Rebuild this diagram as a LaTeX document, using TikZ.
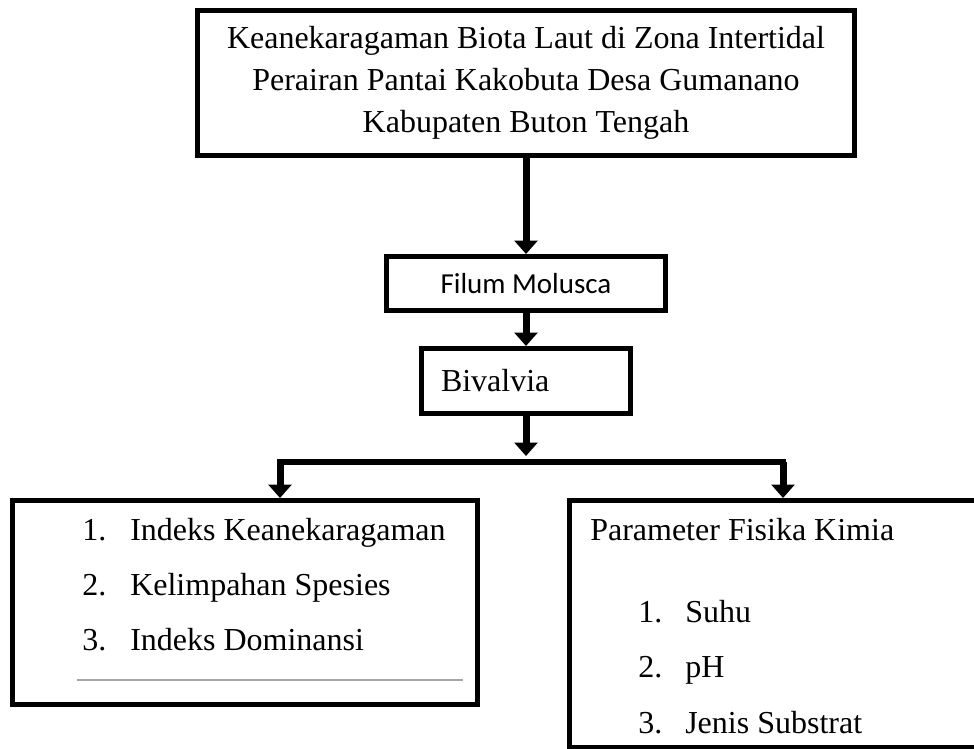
\documentclass[tikz,border=0pt]{standalone}
\usepackage{fontspec}
\setmainfont{Liberation Serif}
\newfontfamily\calibrifont{Carlito}
\usepackage{tikz}
\usetikzlibrary{positioning,arrows.meta}

\begin{document}
\begin{tikzpicture}[x=0.75pt,y=-0.75pt,
		framebox/.style={draw=black, line width=3.75pt, inner sep=0pt},
		flowarrow/.style={-{Triangle[width=17pt,length=10pt]}, line width=5.25pt},
		forkline/.style={line width=5pt, line cap=rect},
		itemtext/.style={anchor=base west, inner sep=0pt, font=\fontsize{24}{28}\selectfont},]
						\useasboundingbox (0,0) rectangle (974,749);
						\node[framebox, minimum width=492.75pt, minimum height=108.75pt, align=center, font=\fontsize{24}{31.5}\selectfont](title) at (526,83){Keanekaragaman Biota Laut di Zona Intertidal\\Perairan Pantai Kakobuta Desa Gumanano\\Kabupaten Buton Tengah};
						\node[framebox, minimum width=209.25pt, minimum height=40.5pt, font=\calibrifont\fontsize{21.75}{26}\selectfont](filum)[below=72pt of title]{Filum Molusca};
						\node[framebox, minimum width=156.75pt, minimum height=48.75pt, text width=127.5pt, align=left, inner xsep=14.6pt, font=\fontsize{24}{28}\selectfont](bivalvia)[below=24.75pt of filum]{Bivalvia};
						\node[framebox, minimum width=348.75pt, minimum height=153pt](lbox) at (245,602.5){};
						\node[framebox, minimum width=313.5pt, minimum height=185.25pt](rbox) at (778.5,624){};

						\coordinate (fork) at (526,456);
						\coordinate (lfork) at (280,462);
						\coordinate (rfork) at (783,462);

						\node[itemtext](lnum1) at (82,540){1.};
						\node[itemtext](litem1) at (130,540){Indeks Keanekaragaman};
						\node[itemtext](lnum2) at (82,595){2.};
						\node[itemtext](litem2) at (130,595){Kelimpahan Spesies};
						\node[itemtext](lnum3) at (82,650){3.};
						\node[itemtext](litem3) at (130,650){Indeks Dominansi};
						\draw[gray!70, line width=1.5pt] (77,680) -- (463,680);

						\node[itemtext](rhead) at (590,540){Parameter Fisika Kimia};
						\node[itemtext](rnum1) at (638,622){1.};
						\node[itemtext](ritem1) at (685,622){Suhu};
						\node[itemtext](rnum2) at (638,677){2.};
						\node[itemtext](ritem2) at (685,677){pH};
						\node[itemtext](rnum3) at (638,733){3.};
						\node[itemtext](ritem3) at (685,733){Jenis Substrat};

						\draw[flowarrow](title) -- (filum);
						\draw[flowarrow](filum) -- (bivalvia);
						\draw[flowarrow](bivalvia) -- (fork);
						\draw[forkline](lfork) -- (rfork);
						\draw[flowarrow](lfork) -- (lfork |- lbox.north);
						\draw[flowarrow](rfork) -- (rfork |- rbox.north);
				\end{tikzpicture}
\end{document}
